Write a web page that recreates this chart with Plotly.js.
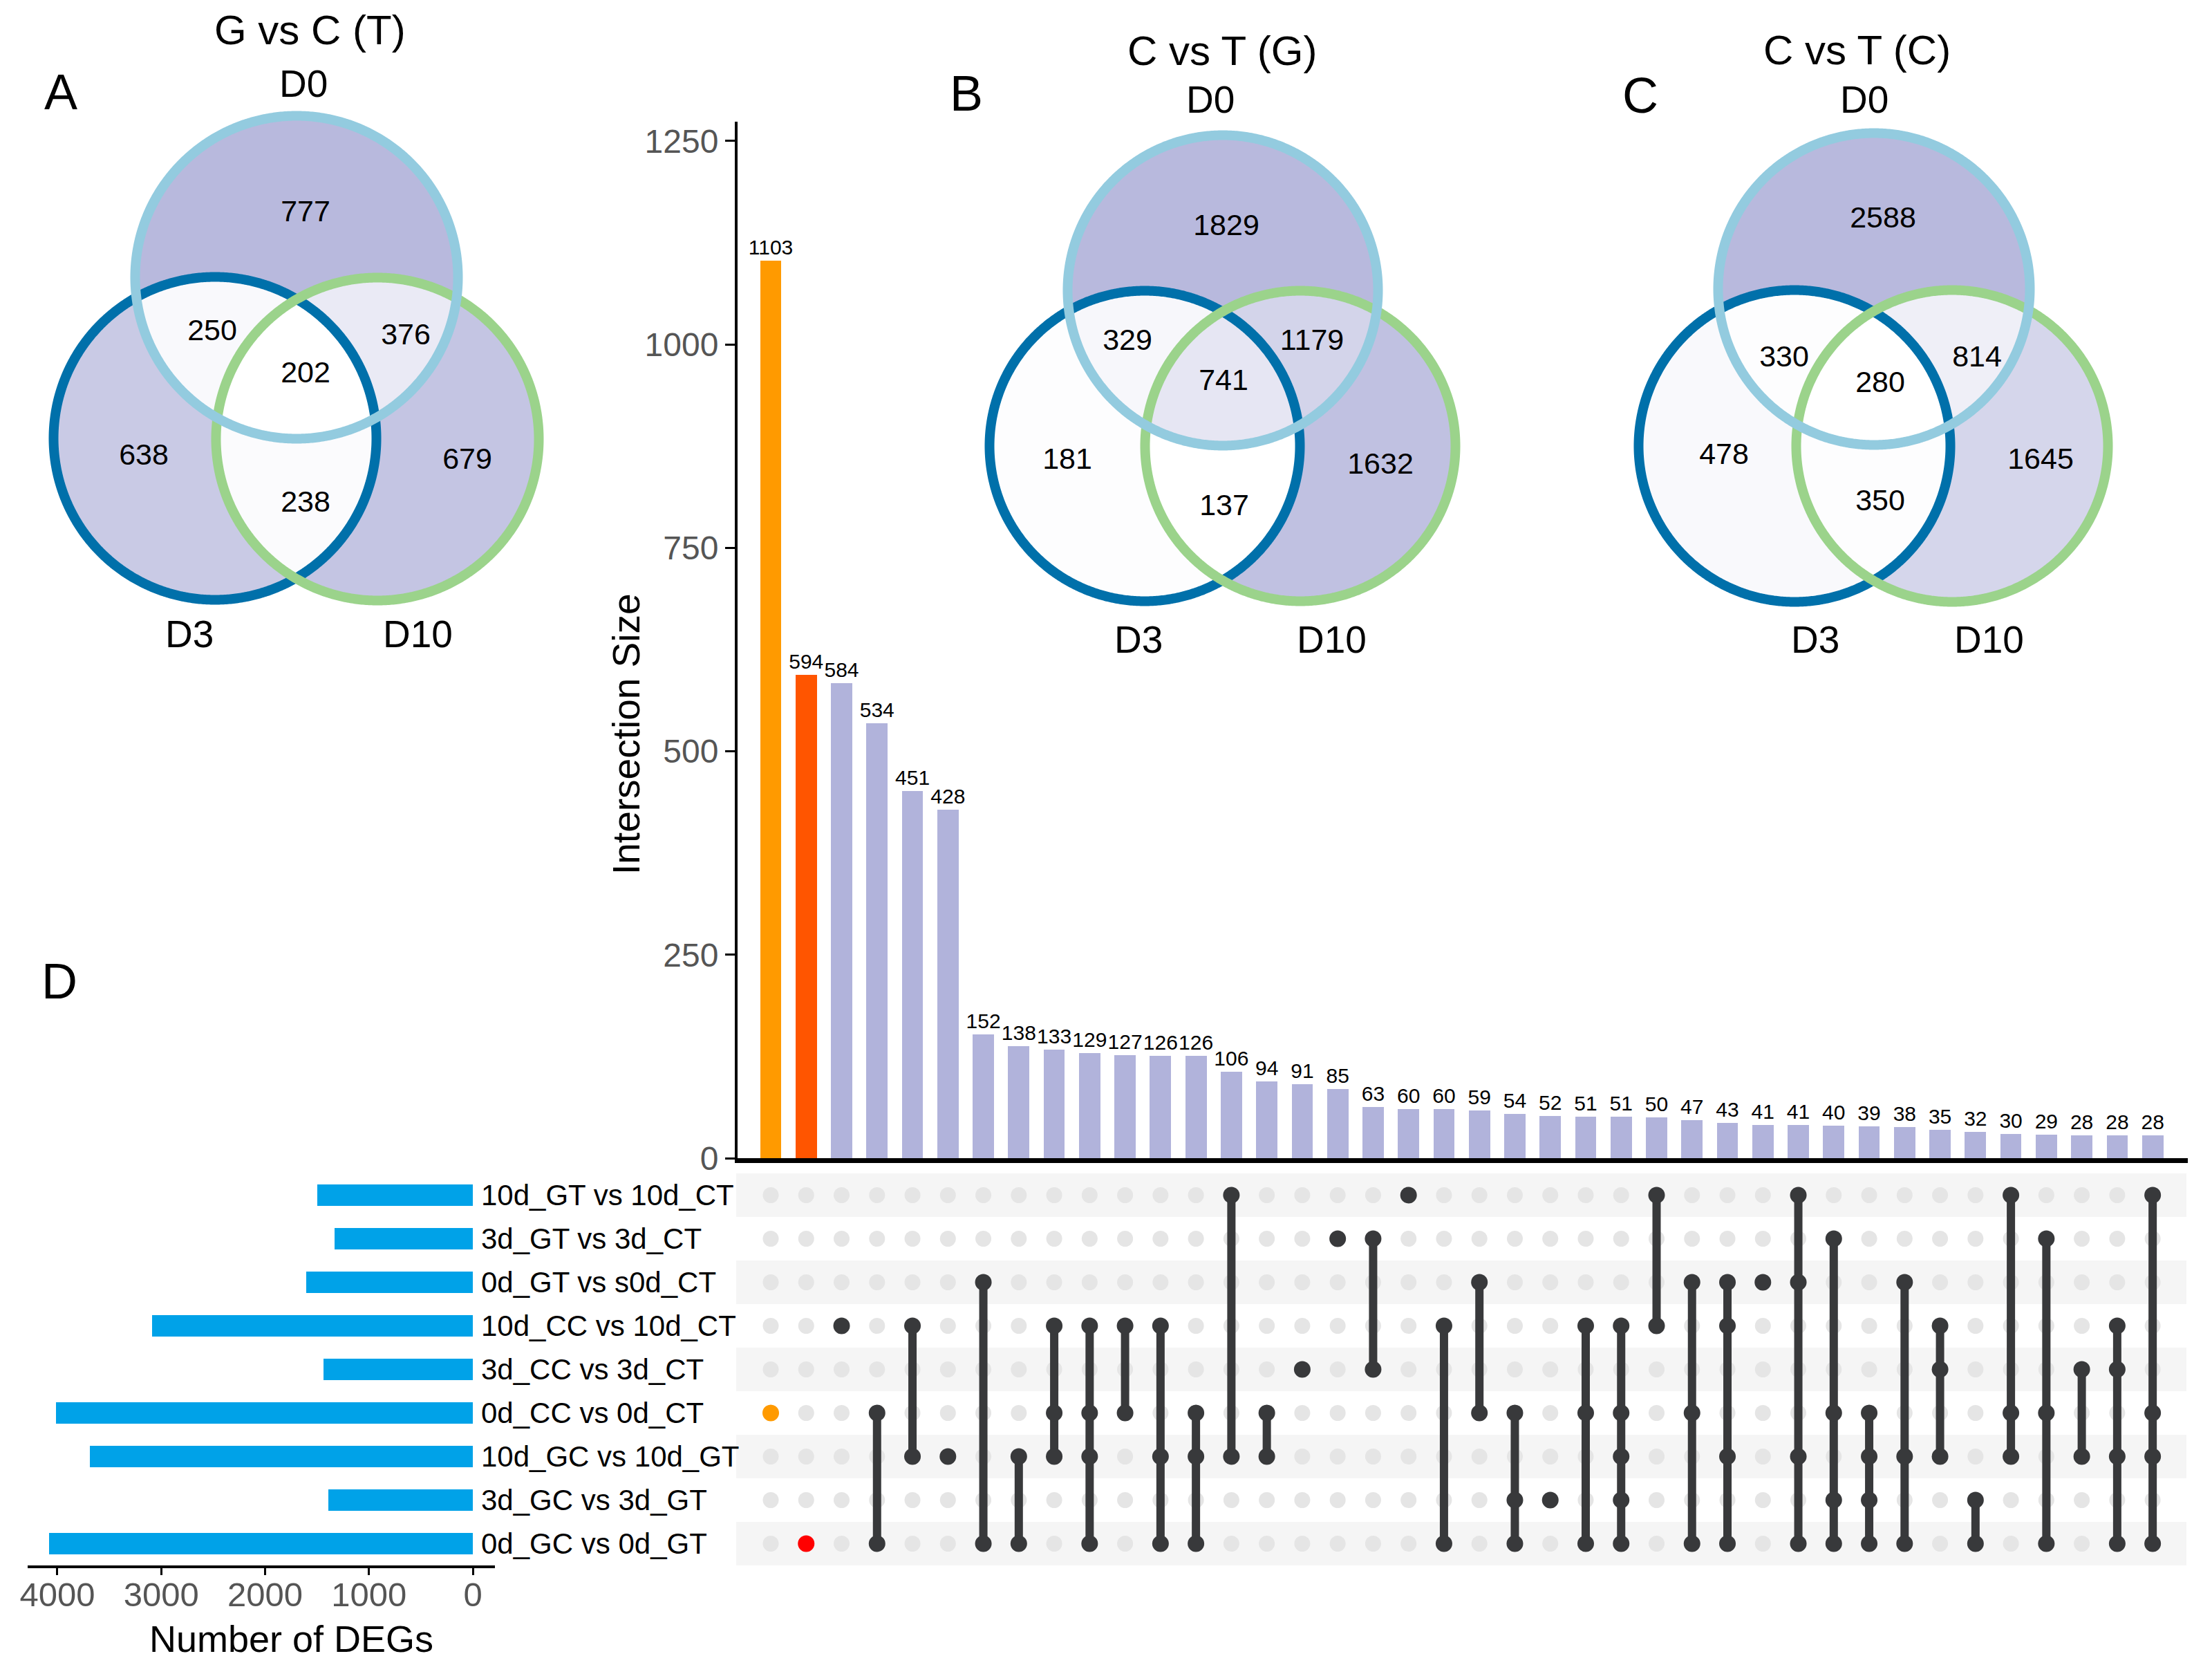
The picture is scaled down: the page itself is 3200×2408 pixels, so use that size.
<!DOCTYPE html>
<html><head><meta charset="utf-8">
<script src="https://cdn.plot.ly/plotly-3.0.1.min.js"></script>
<style>html,body{margin:0;padding:0;background:#fff}</style>
</head><body><div id="chart" style="width:3200px;height:2408px"></div>
<script>
// ================= DATA =================
const setLabels = ["10d_GT vs 10d_CT","3d_GT vs 3d_CT","0d_GT vs s0d_CT","10d_CC vs 10d_CT","3d_CC vs 3d_CT","0d_CC vs 0d_CT","10d_GC vs 10d_GT","3d_GC vs 3d_GT","0d_GC vs 0d_GT"];
const setSizes = [1495,1328,1605,3089,1438,4012,3689,1388,4078];
const intersectionSizes = [1103,594,584,534,451,428,152,138,133,129,127,126,126,106,94,91,85,63,60,60,59,54,52,51,51,50,47,43,41,41,40,39,38,35,32,30,29,28,28,28];
const intersectionSets = [[5],[8],[3],[5,8],[3,6],[6],[2,8],[6,8],[3,5,6],[3,5,6,8],[3,5],[3,6,8],[5,6,8],[0,6],[5,6],[4],[1],[1,4],[0],[3,8],[2,5],[5,7,8],[7],[3,5,8],[3,5,6,7,8],[0,3],[2,5,8],[2,3,6,8],[2],[0,2,6,8],[1,5,7,8],[5,6,7,8],[2,6,8],[3,4,6],[7,8],[0,5,6],[1,5,8],[4,6],[3,4,6,8],[0,5,6,8]];
const yTicks = [0,250,500,750,1000,1250];
const xTicksDEG = [0,1000,2000,3000,4000];

const vennTitles = ["G vs C (T)","C vs T (G)","C vs T (C)"];
const vennPanels = ["A","B","C"];
const vennSetNames = ["D0","D3","D10"];
// region order: D0 only, D3 only, D10 only, D0&D3, D0&D10, D3&D10, D0&D3&D10
const vennA = [777,638,679,250,376,238,202];
const vennB = [1829,181,1632,329,1179,137,741];
const vennC = [2588,478,1645,330,814,350,280];
const vennCounts = [vennA, vennB, vennC];

// ================= LAYOUT GEOMETRY (pixels) =================
const W=3200, H=2408;
const px = v => v/W, py = v => 1 - v/H;
const FONT = "Liberation Sans, Arial, Helvetica, sans-serif";
const upX0=1067, upX1=3165, barBase=1675, barTop=176;
const colFirst=1115, colStep=51.26, barScale=1.177;
const xr0 = 1-(colFirst-upX0)/colStep, xr1 = 1+(upX1-colFirst)/colStep;
const yMax = (barBase-barTop)/barScale;
const matTop=1697, matBot=2264;

const vennGeom = [
 {c:[[429,401],[311,634],[546,635]], r:233.5, title:[448,43], panel:[88,133],
  setLab:[[439,121],[274,917],[604,917]],
  lab:[[442,309],[208,661],[676,667],[307,481],[587,487],[442,729],[442,542]]},
 {c:[[1769,420],[1656,645],[1881,645]], r:224.5, title:[1768,73], panel:[1398,135],
  setLab:[[1751,144],[1647,925],[1926,925]],
  lab:[[1774,329],[1544,667],[1997,674],[1631,495],[1898,495],[1771,734],[1770,553]]},
 {c:[[2711,418],[2596,645],[2824,645]], r:225.5, title:[2686,72], panel:[2373,138],
  setLab:[[2697,144],[2626,925],[2877,925]],
  lab:[[2724,318],[2494,660],[2952,667],[2581,519],[2860,519],[2720,727],[2720,556]]}
];
const ringColors = ["#93CBDF","#0070AA","#9BD38B"];

// ================= TRACES =================
const traces = [];
const cols = intersectionSizes.map((_,i)=>i+1);
const barColors = cols.map(c => c===1 ? "#FF9A00" : (c===2 ? "#FF5500" : "#B1B3DB"));
traces.push({type:"bar", x:cols, y:intersectionSizes, xaxis:"x", yaxis:"y",
  marker:{color:barColors, line:{width:0}}, width:0.6,
  text:intersectionSizes.map(String), textposition:"outside", constraintext:"none",
  textfont:{family:FONT, size:30, color:"#000"}, cliponaxis:false, hoverinfo:"skip"});

// matrix: light dots
const lx=[], ly=[];
cols.forEach(c=>{ for(let r=0;r<setLabels.length;r++){ lx.push(c); ly.push(r);} });
traces.push({type:"scatter", mode:"markers", x:lx, y:ly, xaxis:"x", yaxis:"y2",
  marker:{size:23, color:"#E5E5E5"}, hoverinfo:"skip"});
// lines
const vx=[], vy=[];
intersectionSets.forEach((s,i)=>{ if(s.length>1){ vx.push(i+1,i+1,null); vy.push(Math.min(...s),Math.max(...s),null);} });
traces.push({type:"scatter", mode:"lines", x:vx, y:vy, xaxis:"x", yaxis:"y2",
  line:{color:"#38393B", width:12}, hoverinfo:"skip", connectgaps:false});
// dark dots
const dx=[], dy=[], dc=[];
intersectionSets.forEach((s,i)=>{ s.forEach(r=>{ dx.push(i+1); dy.push(r);
  dc.push(i===0 ? "#FF9A00" : (i===1 ? "#FF0000" : "#38393B")); }); });
traces.push({type:"scatter", mode:"markers", x:dx, y:dy, xaxis:"x", yaxis:"y2",
  marker:{size:24, color:dc}, hoverinfo:"skip"});

// left set-size bars
traces.push({type:"bar", orientation:"h", x:setSizes, y:setLabels.map((_,i)=>i), xaxis:"x3", yaxis:"y3",
  marker:{color:"#00A2E8", line:{width:0}}, width:0.5, hoverinfo:"skip"});

// ================= VENN =================
function circlePts(cx,cy,r,n){ const xs=[],ys=[]; for(let i=0;i<=n;i++){const t=2*Math.PI*i/n; xs.push(cx+r*Math.cos(t)); ys.push(cy+r*Math.sin(t));} return [xs,ys]; }
function interPts(circles,n){
  const pts=[];
  circles.forEach((c,k)=>{ for(let i=0;i<n;i++){ const t=2*Math.PI*i/n;
    const x=c[0]+c[2]*Math.cos(t), y=c[1]+c[2]*Math.sin(t);
    if(circles.every((o,j)=> j===k || Math.hypot(x-o[0],y-o[1])<=o[2]+1e-9)) pts.push([x,y]); } });
  const mx=pts.reduce((a,p)=>a+p[0],0)/pts.length, my=pts.reduce((a,p)=>a+p[1],0)/pts.length;
  pts.sort((a,b)=>Math.atan2(a[1]-my,a[0]-mx)-Math.atan2(b[1]-my,b[0]-mx));
  pts.push(pts[0]);
  return [pts.map(p=>p[0]), pts.map(p=>p[1])];
}
function shade(v,mn,mx){ const f=(v-mn)/(mx-mn); const d=[184,185,221];
  const c=d.map(k=>Math.round(255-f*(255-k))); return `rgb(${c[0]},${c[1]},${c[2]})`; }

const annotations = [];
vennGeom.forEach((g,vi)=>{
  const counts = vennCounts[vi];
  const mn=Math.min(...counts), mx=Math.max(...counts);
  const C = g.c.map(p=>[p[0],p[1],g.r]);
  const fills = [];
  [0,1,2].forEach(k=>{ const [xs,ys]=circlePts(C[k][0],C[k][1],g.r,720); fills.push({xs,ys,col:shade(counts[k],mn,mx)}); });
  [[0,1,3],[0,2,4],[1,2,5]].forEach(([a,b,ri])=>{ const [xs,ys]=interPts([C[a],C[b]],1440); fills.push({xs,ys,col:shade(counts[ri],mn,mx)}); });
  { const [xs,ys]=interPts(C,1440); fills.push({xs,ys,col:shade(counts[6],mn,mx)}); }
  fills.forEach(f=>traces.push({type:"scatter", mode:"lines", x:f.xs, y:f.ys, xaxis:"x4", yaxis:"y4",
    fill:"toself", fillcolor:f.col, line:{width:0, color:f.col}, hoverinfo:"skip"}));
  [1,2,0].forEach(k=>{ const [xs,ys]=circlePts(C[k][0],C[k][1],g.r,720);
    traces.push({type:"scatter", mode:"lines", x:xs, y:ys, xaxis:"x4", yaxis:"y4",
      line:{color:ringColors[k], width:14, shape:"spline", smoothing:0}, hoverinfo:"skip"}); });
  traces.push({type:"scatter", mode:"text", x:g.lab.map(p=>p[0]), y:g.lab.map(p=>p[1]),
    text:counts.map(String), textposition:"middle center", xaxis:"x4", yaxis:"y4",
    textfont:{family:FONT, size:43, color:"#000"}, hoverinfo:"skip"});
  annotations.push({xref:"x4", yref:"y4", x:g.title[0], y:g.title[1], text:vennTitles[vi], showarrow:false,
    xanchor:"center", yanchor:"middle", font:{family:FONT, size:60, color:"#000"}});
  annotations.push({xref:"x4", yref:"y4", x:g.panel[0], y:g.panel[1], text:vennPanels[vi], showarrow:false,
    xanchor:"center", yanchor:"middle", font:{family:FONT, size:72, color:"#000"}});
  vennSetNames.forEach((s,k)=>annotations.push({xref:"x4", yref:"y4", x:g.setLab[k][0], y:g.setLab[k][1], text:s, showarrow:false,
    xanchor:"center", yanchor:"middle", font:{family:FONT, size:55, color:"#000"}}));
});
annotations.push({xref:"x4", yref:"y4", x:86, y:1419, text:"D", showarrow:false, xanchor:"center", yanchor:"middle",
  font:{family:FONT, size:72, color:"#000"}});
annotations.push({xref:"paper", yref:"paper", x:px(906), y:py(1062), text:"Intersection Size", textangle:-90, showarrow:false,
  xanchor:"center", yanchor:"middle", font:{family:FONT, size:55, color:"#000"}});
annotations.push({xref:"paper", yref:"paper", x:px(421), y:py(2370), text:"Number of DEGs", showarrow:false,
  xanchor:"center", yanchor:"middle", font:{family:FONT, size:54, color:"#000"}});
setLabels.forEach((s,i)=>annotations.push({xref:"paper", yref:"y3", x:px(694), y:i, text:s, showarrow:false,
  xanchor:"left", yanchor:"middle", font:{family:FONT, size:42, color:"#000"}}));

// matrix stripes
const shapes = [];
setLabels.forEach((_,i)=>{ if(i%2===0) shapes.push({type:"rect", xref:"paper", yref:"y2", x0:px(1065), x1:px(3163),
  y0:i-0.5, y1:i+0.5, fillcolor:"#F5F5F5", line:{width:0}, layer:"below"}); });

const layout = {
  width:W, height:H, margin:{l:0,r:0,t:0,b:0}, paper_bgcolor:"#fff", plot_bgcolor:"rgba(0,0,0,0)",
  showlegend:false, font:{family:FONT}, annotations, shapes, bargap:0,
  xaxis:{domain:[px(upX0),px(upX1)], range:[xr0,xr1], anchor:"y", showline:true, linewidth:7, linecolor:"#000",
    ticks:"", showticklabels:false, showgrid:false, zeroline:false, fixedrange:true},
  yaxis:{domain:[py(barBase),py(barTop)], range:[0,yMax], anchor:"x", showline:true, linewidth:4, linecolor:"#000",
    ticks:"outside", ticklen:14, tickwidth:3, tickcolor:"#000", tickvals:yTicks, ticktext:yTicks.map(String),
    tickfont:{family:FONT, size:48, color:"#555"}, showgrid:false, zeroline:false, fixedrange:true},
  yaxis2:{domain:[py(matBot),py(matTop)], range:[8.5,-0.5], anchor:"x", visible:false, fixedrange:true},
  xaxis3:{domain:[px(40),px(716)], range:[4286,-213], anchor:"y3", showline:true, linewidth:4, linecolor:"#000",
    ticks:"outside", ticklen:10, tickwidth:3, tickcolor:"#000", tickvals:xTicksDEG, ticktext:xTicksDEG.map(String),
    ticklabelstandoff:-14,
    tickfont:{family:FONT, size:49, color:"#555"}, showgrid:false, zeroline:false, fixedrange:true},
  yaxis3:{domain:[py(matBot),py(matTop)], range:[8.5,-0.5], anchor:"x3", visible:false, fixedrange:true},
  xaxis4:{domain:[0,1], range:[0,W], anchor:"y4", visible:false, fixedrange:true},
  yaxis4:{domain:[0,1], range:[H,0], anchor:"x4", visible:false, fixedrange:true}
};
Plotly.newPlot("chart", traces, layout, {staticPlot:true, displayModeBar:false});
</script></body></html>
